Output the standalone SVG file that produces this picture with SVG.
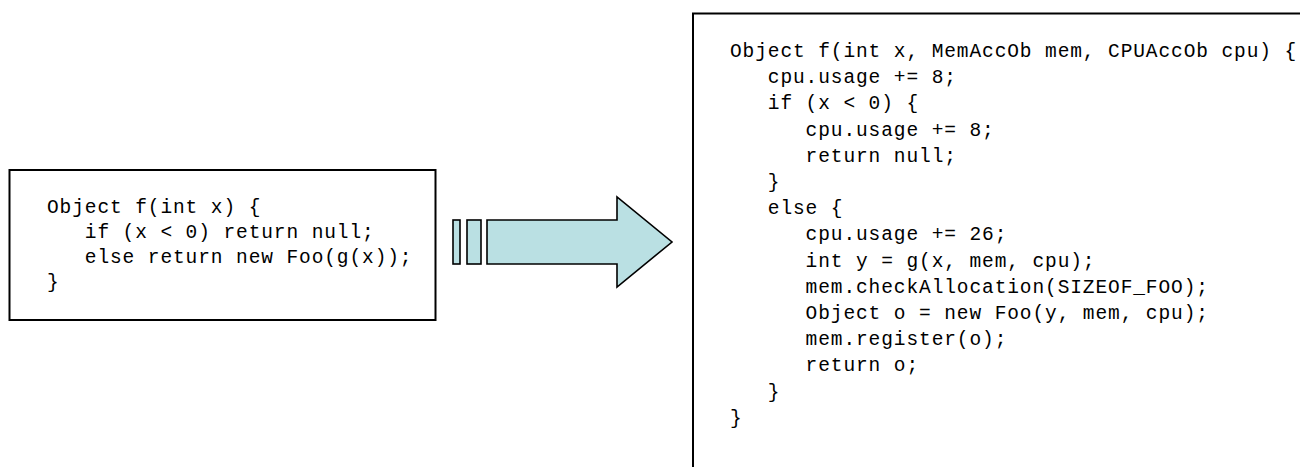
<svg xmlns="http://www.w3.org/2000/svg" width="1300" height="467" viewBox="0 0 1300 467">
  <style>
    .box { fill: #ffffff; stroke: #000000; stroke-width: 2; }
    .code { font-family: "Courier New", "Liberation Mono", monospace; font-size: 19.5px; letter-spacing: 0.9px; fill: #000000; white-space: pre; }
    .arrow { fill: #BAE0E3; stroke: #000000; stroke-width: 1.6; stroke-linejoin: miter; }
  </style>
  <rect width="1300" height="467" fill="#ffffff"/>

  <!-- original function -->
  <g id="source-code">
    <rect class="box" x="9.5" y="170" width="426" height="150"/>
    <text class="code" x="47" y="213">Object f(int x) {</text>
    <text class="code" x="47" y="238">   if (x &lt; 0) return null;</text>
    <text class="code" x="47" y="263">   else return new Foo(g(x));</text>
    <text class="code" x="47" y="288">}</text>
  </g>

  <!-- transformation arrow -->
  <g id="connectors">
    <rect class="arrow" x="453" y="220" width="7" height="44"/>
    <rect class="arrow" x="467" y="220" width="14" height="44"/>
    <path class="arrow" d="M487,220 H617 V197 L672,242 L617,287 V264 H487 Z"/>
  </g>

  <!-- instrumented function -->
  <g id="instrumented-code">
    <rect class="box" x="693" y="13.5" width="700" height="520"/>
    <text class="code" x="730" y="57">Object f(int x, MemAccOb mem, CPUAccOb cpu) {</text>
    <text class="code" x="730" y="83.2">   cpu.usage += 8;</text>
    <text class="code" x="730" y="109.4">   if (x &lt; 0) {</text>
    <text class="code" x="730" y="135.6">      cpu.usage += 8;</text>
    <text class="code" x="730" y="161.8">      return null;</text>
    <text class="code" x="730" y="188">   }</text>
    <text class="code" x="730" y="214.2">   else {</text>
    <text class="code" x="730" y="240.4">      cpu.usage += 26;</text>
    <text class="code" x="730" y="266.6">      int y = g(x, mem, cpu);</text>
    <text class="code" x="730" y="292.8">      mem.checkAllocation(SIZEOF_FOO);</text>
    <text class="code" x="730" y="319">      Object o = new Foo(y, mem, cpu);</text>
    <text class="code" x="730" y="345.2">      mem.register(o);</text>
    <text class="code" x="730" y="371.4">      return o;</text>
    <text class="code" x="730" y="397.6">   }</text>
    <text class="code" x="730" y="423.8">}</text>
  </g>
</svg>
